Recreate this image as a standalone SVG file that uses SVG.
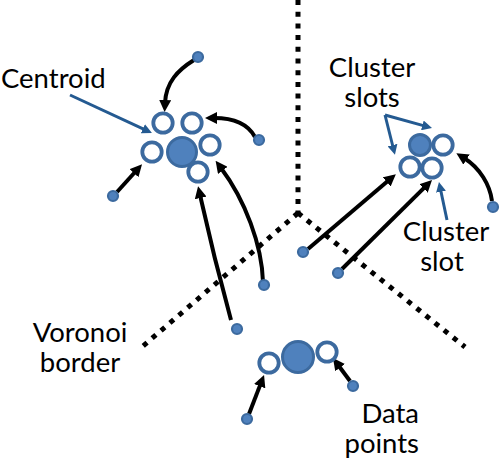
<svg xmlns="http://www.w3.org/2000/svg" width="504" height="462" viewBox="0 0 504 462">
<style>
.lbl{font-family:Lato,"Liberation Sans",sans-serif;font-size:27.5px;fill:#000}
.cen{fill:#4F81BD;stroke:#3C6A9F;stroke-width:3}
.slot{fill:#fff;stroke:#3C6A9F;stroke-width:3.8}
.pt{fill:#4F81BD;stroke:#3C6A9F;stroke-width:2.2}
.arr{fill:none;stroke:#000;stroke-width:4;marker-end:url(#ah)}
.barr{fill:none;stroke:#245A91;stroke-width:3;marker-end:url(#bh)}
.vor{fill:none;stroke:#000;stroke-width:5;stroke-dasharray:5 6.7}
</style>
<defs>
<marker id="ah" viewBox="0 0 12 12" refX="3" refY="6" markerWidth="12" markerHeight="12" markerUnits="userSpaceOnUse" orient="auto"><path d="M0,0 L12,6 L0,12 z" fill="#000"/></marker>
<marker id="bh" viewBox="0 0 10 10" refX="2" refY="5" markerWidth="10" markerHeight="10" markerUnits="userSpaceOnUse" orient="auto"><path d="M0,0 L10,5 L0,10 z" fill="#245A91"/></marker>
</defs>
<g id="voronoi-border">
<path class="vor" d="M298,0 L298,213"/>
<path class="vor" d="M298,213 L143,346"/>
<path class="vor" d="M298,213 L465,347"/>
</g>
<g id="connectors">
<path class="arr" d="M194,60 C178,70 166,82 165,103"/>
<path class="arr" d="M255,137 C248,124 235,118 214,118"/>
<path class="arr" d="M117,192 L136,171"/>
<path class="arr" d="M231,320 Q214,258 200,195"/>
<path class="arr" d="M263,282 C262,245 245,200 221,168"/>
<path class="arr" d="M492,201 C490,185 480,168 464,158"/>
<path class="arr" d="M308,249 L389,180"/>
<path class="arr" d="M342,269 L425.6,186.3"/>
<path class="arr" d="M249,414 L260.8,383.4"/>
<path class="arr" d="M350,381 L338.3,365.2"/>
<path class="barr" d="M70,95 L144.7,129.6"/>
<path class="barr" d="M385,115 L393,147"/>
<path class="barr" d="M385,115 L424.3,125.9"/>
<path class="barr" d="M447,220 L440.6,189.8"/>
</g>
<g id="cluster-top-left">
<circle class="slot" cx="163" cy="123" r="9.7"/>
<circle class="slot" cx="192" cy="123" r="9.7"/>
<circle class="slot" cx="152" cy="152" r="9.7"/>
<circle class="slot" cx="210" cy="145" r="9.7"/>
<circle class="slot" cx="198" cy="172" r="9.7"/>
<circle class="cen" cx="182" cy="152" r="14.5"/>
</g>
<g id="cluster-right">
<circle class="slot" cx="443" cy="145" r="9.7"/>
<circle class="slot" cx="410" cy="167" r="9.7"/>
<circle class="slot" cx="432" cy="168" r="9.7"/>
<circle class="cen" cx="420" cy="145" r="10.5"/>
</g>
<g id="cluster-bottom">
<circle class="slot" cx="269" cy="363" r="9.7"/>
<circle class="slot" cx="327" cy="352" r="9.7"/>
<circle class="cen" cx="298" cy="357" r="15.5"/>
</g>
<g id="data-points">
<circle class="pt" cx="198" cy="57" r="5"/>
<circle class="pt" cx="259" cy="140" r="5"/>
<circle class="pt" cx="113" cy="196" r="5"/>
<circle class="pt" cx="237" cy="329" r="5"/>
<circle class="pt" cx="264" cy="285" r="5"/>
<circle class="pt" cx="493" cy="207" r="5"/>
<circle class="pt" cx="303" cy="252" r="5"/>
<circle class="pt" cx="338" cy="273" r="5"/>
<circle class="pt" cx="247" cy="419" r="5"/>
<circle class="pt" cx="353" cy="386" r="5"/>
</g>
<g id="label-centroid"><text class="lbl" x="1" y="88">Centroid</text></g>
<g id="label-cluster-slots"><text class="lbl" text-anchor="middle"><tspan x="372" y="77">Cluster</tspan><tspan x="372" y="107">slots</tspan></text></g>
<g id="label-cluster-slot"><text class="lbl" text-anchor="middle"><tspan x="446" y="241">Cluster</tspan><tspan x="442" y="271">slot</tspan></text></g>
<g id="label-voronoi"><text class="lbl" text-anchor="middle"><tspan x="80" y="342">Voronoi</tspan><tspan x="80" y="372">border</tspan></text></g>
<g id="label-data-points"><text class="lbl" text-anchor="end"><tspan x="419" y="423">Data</tspan><tspan x="419" y="453">points</tspan></text></g>
</svg>
